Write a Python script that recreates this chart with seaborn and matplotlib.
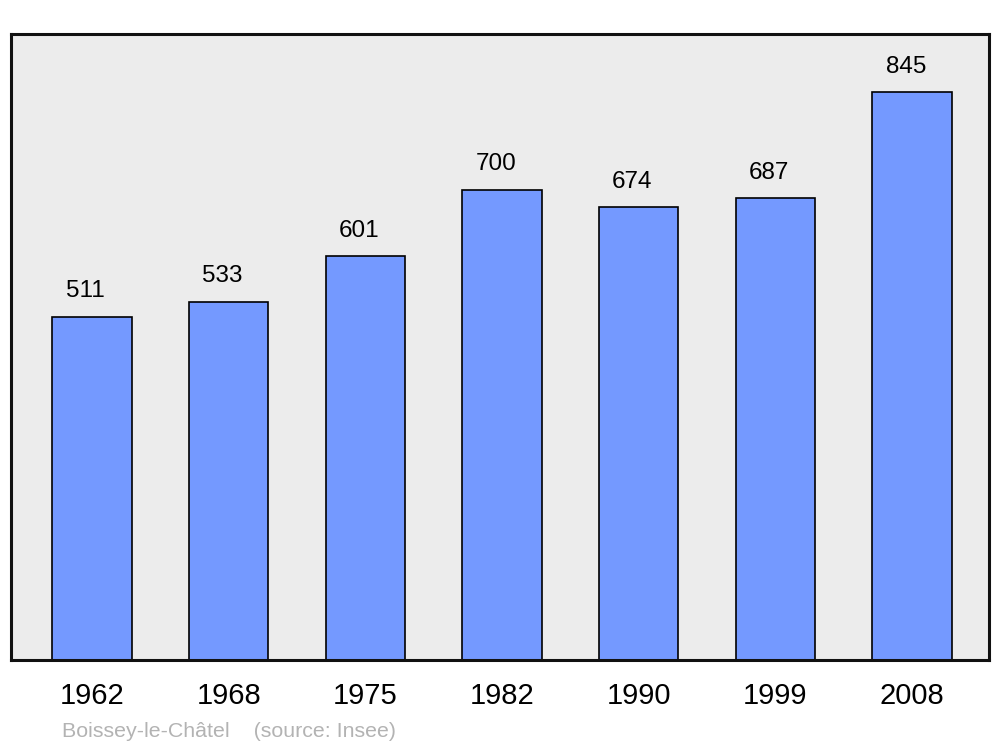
import numpy as np
import pandas as pd
import matplotlib
matplotlib.use("Agg")
import matplotlib.pyplot as plt
import seaborn as sb

years = ["1962", "1968", "1975", "1982", "1990", "1999", "2008"]
population = [511, 533, 601, 700, 674, 687, 845]

df = pd.DataFrame({"year": years, "pop": population})

sb.set_style("white")
plt.rcParams["font.family"] = ["Liberation Sans", "DejaVu Sans"]
plt.rcParams["text.color"] = "black"
plt.rcParams["xtick.color"] = "black"

fig = plt.figure(figsize=(10, 7.47), dpi=100)
ax = fig.add_axes([0.011, 87 / 747, 0.978, 626 / 747])
ax.set_facecolor("#ececec")

sb.barplot(data=df, x="year", y="pop", color="#7499ff", saturation=1,
           width=0.58, edgecolor="black", linewidth=1.2, ax=ax)

# value labels over the bars (sit a little left of centre in the original)
for i, v in enumerate(population):
    ax.annotate(str(v), (i, v), xytext=(-4.5, 14), textcoords="offset points",
                ha="center", va="baseline", fontsize=17.5, color="black")

ax.set_xlim(-0.593, 6.563)
ax.set_ylim(0, 931.6)
ax.set_yticks([])
ax.set_xlabel("")
ax.set_ylabel("")
ax.tick_params(axis="x", length=0, pad=16, labelsize=21, labelcolor="black")
for s in ax.spines.values():
    s.set_visible(True)
    s.set_linewidth(2.2)
    s.set_color("#111111")

fig.text(0.062, 1 - 737 / 747, "Boissey-le-Châtel    (source: Insee)",
         color="#b3b3b3", fontsize=15.4, va="baseline")

fig.savefig("out.png", dpi=100)
